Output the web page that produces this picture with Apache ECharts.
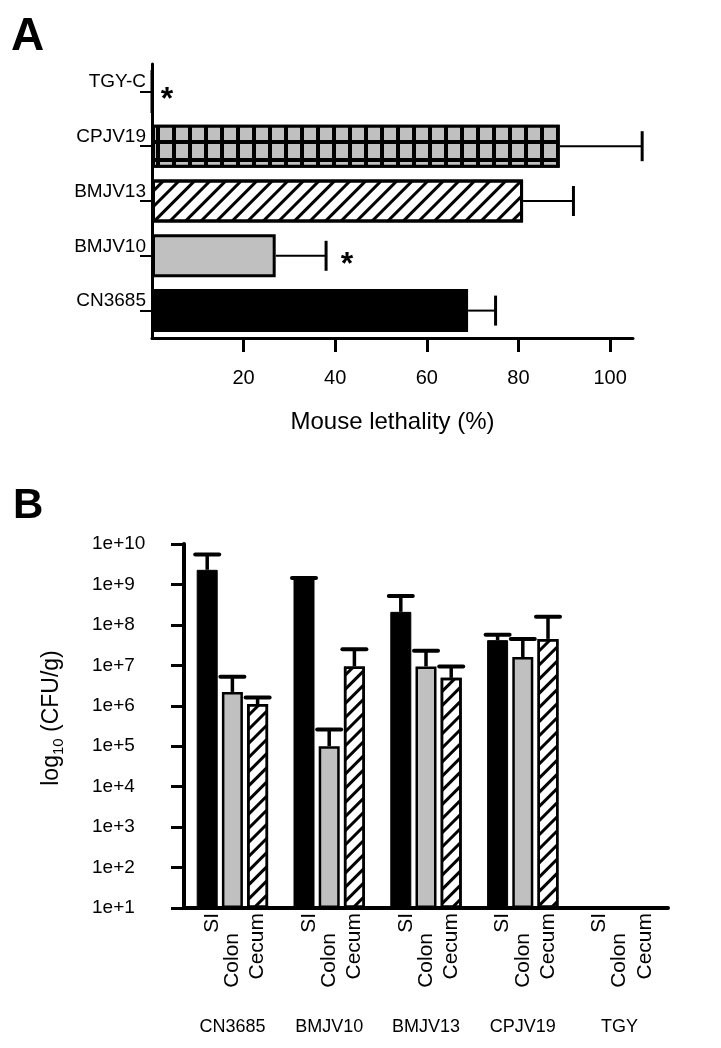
<!DOCTYPE html>
<html><head><meta charset="utf-8">
<script src="https://cdn.jsdelivr.net/npm/echarts@6/dist/echarts.min.js"></script>
<style>html,body{margin:0;padding:0;background:#fff}#c{width:721px;height:1048px}</style>
</head><body><div id="c"></div>
<script>
// ---------- Panel A data ----------
const strainsA = ['CN3685', 'BMJV10', 'BMJV13', 'CPJV19', 'TGY-C'];
const lethality = [69, 27, 81, 89, 0];
const lethalityErr = [6, 11, 11, 18, 0];
const significant = [0, 1, 0, 0, 1];
const lethalityTicks = [20, 40, 60, 80, 100];

// ---------- Panel B data ----------
const strainsB = ['CN3685', 'BMJV10', 'BMJV13', 'CPJV19', 'TGY'];
const sites = ['SI', 'Colon', 'Cecum'];
const cfuSI = [2.3e9, 1.4e9, 2.1e8, 4.2e7, null];
const cfuSIUpper = [5.5e9, 1.45e9, 5.2e8, 5.7e7, null];
const cfuColon = [2.2e6, 1.0e5, 9.4e6, 1.6e7, null];
const cfuColonUpper = [5.2e6, 2.6e5, 2.3e7, 4.5e7, null];
const cfuCecum = [1.1e6, 9.4e6, 4.9e6, 4.5e7, null];
const cfuCecumUpper = [1.6e6, 2.5e7, 9.4e6, 1.6e8, null];
const logTicks = [1e1, 1e2, 1e3, 1e4, 1e5, 1e6, 1e7, 1e8, 1e9, 1e10];
const logTickLabels = ['1e+1', '1e+2', '1e+3', '1e+4', '1e+5', '1e+6', '1e+7', '1e+8', '1e+9', '1e+10'];

const FONT = "'Liberation Sans', Arial, sans-serif";
const BAR_B = 21, GAP_B = 0.2;

const stripeDecal = (gap) => ({symbol: 'rect', symbolSize: 1, color: '#000', dashArrayX: [1, 0], dashArrayY: [2.5, gap], rotation: -Math.PI / 4});
const styleA = [
  {color: '#000'},
  {color: '#c0c0c0'},
  {color: '#fff', decal: stripeDecal(8)},
  {color: '#000', decal: {symbol: 'rect', symbolSize: 1, color: '#c0c0c0', dashArrayX: [12, 3.5], dashArrayY: [14, 3.5], rotation: 0}},
  {color: '#000'}
];

const chart = echarts.init(document.getElementById('c'), null, {renderer: 'canvas'});

const valsB = [cfuSI, cfuColon, cfuCecum];
const upsB = [cfuSIUpper, cfuColonUpper, cfuCecumUpper];
const errDataB = [];
valsB.forEach((arr, k) => arr.forEach((v, i) => { if (v != null) errDataB.push([i, v, upsB[k][i], k]); }));

const axisLineA = {show: true, lineStyle: {color: '#000', width: 3}};
const axisLineB = {show: true, lineStyle: {color: '#000', width: 4}};

const option = {
  animation: false,
  backgroundColor: '#fff',
  textStyle: {fontFamily: FONT, color: '#000'},
  title: [
    {text: 'A', left: 11, top: 14, padding: 0, textStyle: {fontFamily: FONT, fontSize: 46, fontWeight: 'bold', color: '#000'}},
    {text: 'B', left: 13, top: 485, padding: 0, textStyle: {fontFamily: FONT, fontSize: 42, fontWeight: 'bold', color: '#000'}}
  ],
  grid: [
    {left: 152, top: 64, width: 481, height: 274, containLabel: false, outerBoundsMode: 'none'},
    {left: 184, top: 544, width: 484, height: 364, containLabel: false, outerBoundsMode: 'none'}
  ],
  xAxis: [
    {
      gridIndex: 0, type: 'value', min: 0, max: 105,
      axisLine: axisLineA, splitLine: {show: false},
      axisTick: {show: true, customValues: lethalityTicks, length: 14, lineStyle: {color: '#000', width: 3}},
      axisLabel: {customValues: lethalityTicks, margin: 30, fontSize: 20, color: '#000', fontFamily: FONT},
      name: 'Mouse lethality (%)', nameLocation: 'middle', nameGap: 72, nameMoveOverlap: false,
      nameTextStyle: {fontSize: 24, color: '#000', fontFamily: FONT}
    },
    {
      gridIndex: 1, type: 'category', data: strainsB,
      axisLine: axisLineB, axisTick: {show: false},
      axisLabel: {margin: 110, fontSize: 18, color: '#000', fontFamily: FONT}
    },
    {gridIndex: 1, type: 'category', data: strainsB, show: false}
  ],
  yAxis: [
    {
      gridIndex: 0, type: 'category', data: strainsA,
      axisLine: axisLineA,
      axisTick: {show: true, alignWithLabel: true, length: 12, lineStyle: {color: '#000', width: 2}},
      axisLabel: {margin: 6, fontSize: 19, color: '#000', verticalAlign: 'bottom', fontFamily: FONT},
    },
    {
      gridIndex: 1, type: 'log', logBase: 10, min: 1e1, max: 1e10, startValue: 1e1,
      axisLine: axisLineB, splitLine: {show: false}, minorTick: {show: false},
      axisTick: {show: true, customValues: logTicks, length: 13, lineStyle: {color: '#000', width: 3}},
      axisLabel: {customValues: logTicks, margin: 92, align: 'left', fontSize: 19, color: '#000', fontFamily: FONT,
        formatter: (v) => logTickLabels[logTicks.findIndex(t => Math.abs(Math.log10(t) - Math.log10(v)) < 1e-6)]},
      name: '{a|log}{s|10}{a| (CFU/g)}', nameLocation: 'middle', nameGap: 118, nameRotate: 90, nameMoveOverlap: false,
      nameTextStyle: {fontSize: 23, color: '#000', fontFamily: FONT, padding: [0, 0, 0, 16],
        rich: {
          a: {fontSize: 23, color: '#000', fontFamily: FONT},
          s: {fontSize: 15, color: '#000', fontFamily: FONT, padding: [14, 0, 0, 0]}
        }}
    },
    {gridIndex: 1, type: 'log', logBase: 10, min: 1e1, max: 1e10, startValue: 1e1, show: false}
  ],
  series: [
    {
      type: 'bar', xAxisIndex: 0, yAxisIndex: 0, barWidth: 43,
      data: lethality.map((v, i) => ({value: v, itemStyle: Object.assign({borderColor: '#000', borderWidth: 3}, styleA[i])})),
      z: 2
    },
    {
      type: 'custom', xAxisIndex: 0, yAxisIndex: 0, z: 3,
      encode: {x: 0, y: 1},
      data: strainsA.map((s, i) => [lethality[i], i, lethalityErr[i], significant[i]]),
      renderItem: function (params, api) {
        const v = api.value(0), cat = api.value(1), e = api.value(2), sig = api.value(3);
        const p0 = api.coord([v, cat]);
        const p1 = api.coord([v + e, cat]);
        const ch = [];
        if (e > 0) {
          ch.push({type: 'line', shape: {x1: p0[0], y1: p0[1], x2: p1[0], y2: p1[1]}, style: {stroke: '#000', lineWidth: 2}});
          ch.push({type: 'line', shape: {x1: p1[0], y1: p1[1] - 15, x2: p1[0], y2: p1[1] + 15}, style: {stroke: '#000', lineWidth: 3}});
        }
        if (sig) {
          ch.push({type: 'text', x: p1[0] + (e > 0 ? 21 : 15), y: p1[1] + 9,
            style: {text: '*', font: 'bold 32px ' + FONT, fill: '#000', align: 'center', verticalAlign: 'middle'}});
        }
        return {type: 'group', children: ch};
      }
    },
    {
      name: sites[0], type: 'bar', xAxisIndex: 1, yAxisIndex: 1, barWidth: BAR_B, barGap: (GAP_B * 100) + '%',
      data: cfuSI, itemStyle: {color: '#000', borderColor: '#000', borderWidth: 1}
    },
    {
      name: sites[1], type: 'bar', xAxisIndex: 1, yAxisIndex: 1, barWidth: BAR_B, barGap: (GAP_B * 100) + '%',
      data: cfuColon, itemStyle: {color: '#c0c0c0', borderColor: '#000', borderWidth: 2.5}
    },
    {
      name: sites[2], type: 'bar', xAxisIndex: 1, yAxisIndex: 1, barWidth: BAR_B, barGap: (GAP_B * 100) + '%',
      data: cfuCecum, itemStyle: {color: '#fff', borderColor: '#000', borderWidth: 2.5, decal: stripeDecal(7)}
    },
    {
      type: 'custom', xAxisIndex: 1, yAxisIndex: 1, z: 4,
      encode: {x: 0, y: 1},
      data: errDataB,
      renderItem: function (params, api) {
        const cat = api.value(0), top = api.value(1), up = api.value(2), k = api.value(3);
        const off = (k - 1) * (BAR_B * (1 + GAP_B));
        const p0 = api.coord([cat, top]);
        const p1 = api.coord([cat, up]);
        const x = p0[0] + off;
        return {type: 'group', children: [
          {type: 'line', shape: {x1: x, y1: p0[1], x2: x, y2: p1[1]}, style: {stroke: '#000', lineWidth: 3.5}},
          {type: 'line', shape: {x1: x - 12, y1: p1[1], x2: x + 12, y2: p1[1]}, style: {stroke: '#000', lineWidth: 4, lineCap: 'round'}}
        ]};
      }
    }
  ].concat(sites.map((s, k) => ({
    name: s + ' label', type: 'bar', xAxisIndex: 2, yAxisIndex: 2, barWidth: BAR_B, barGap: (GAP_B * 100) + '%',
    clip: false, silent: true,
    data: strainsB.map(() => logTicks[0]),
    itemStyle: {color: 'rgba(0,0,0,0)'},
    label: {show: true, position: 'bottom', distance: k === 1 ? 25 : 5, offset: k === 0 ? [0, 5] : [0, 0],
      rotate: 90, align: 'right', verticalAlign: 'middle', fontSize: 21, color: '#000', fontFamily: FONT,
      formatter: () => s}
  })))
};
chart.setOption(option);
</script>
</body></html>
